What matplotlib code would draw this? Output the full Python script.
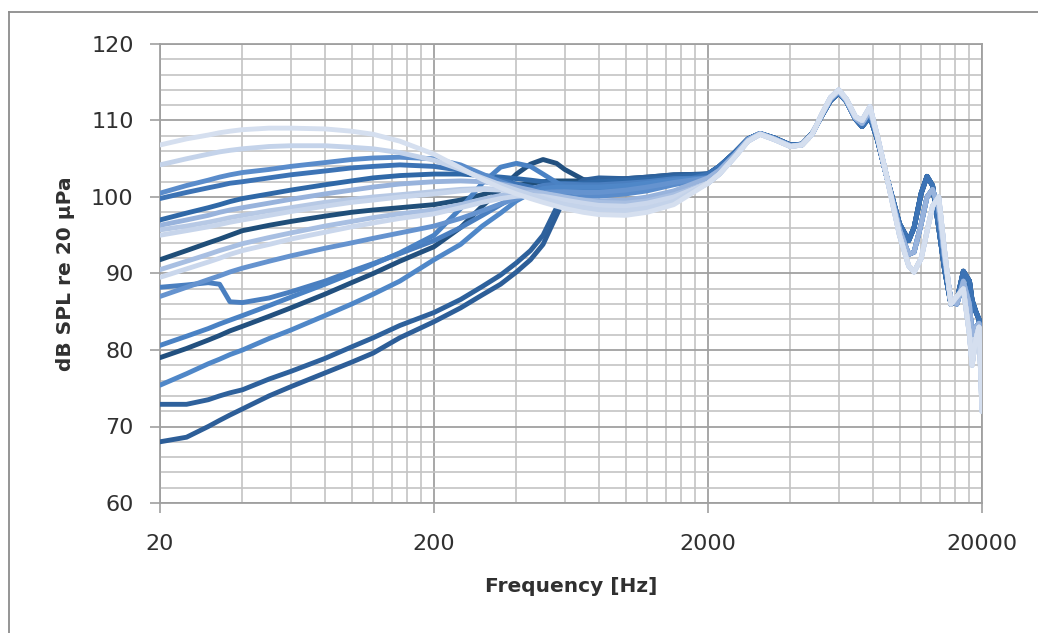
import numpy as np
import matplotlib
matplotlib.use("Agg")
import matplotlib.pyplot as plt
from matplotlib.ticker import FixedLocator, NullFormatter
from matplotlib.lines import Line2D

# frequency points (Hz) for the low/mid part of each curve
freq_low = [20, 25, 30, 33, 36, 40, 50, 60, 80, 100, 120, 150, 200, 250, 300,
            350, 400, 450, 500, 560, 600, 700, 800, 1000, 1200, 1500]

# shared high-frequency part (all curves converge above 2 kHz)
freq_high = [2000, 2200, 2500, 2800, 3100, 3500, 4000, 4400, 4800, 5200, 5600,
             6000, 6400, 6900, 7300, 7800, 8300, 9000, 10000, 10800, 11300,
             12000, 12600, 13200, 13900, 14600, 15400, 16200, 17100, 18000,
             18400, 19000, 19500, 20000]
high_dark = [103.0, 104.0, 105.8, 107.6, 108.3, 107.7, 106.8, 106.9, 108.3, 110.6, 112.6,
             113.6, 112.5, 110.2, 109.2, 110.5, 107.5, 102.5, 96.5, 94.3, 96.0,
             100.5, 102.7, 101.5, 96.0, 90.5, 86.0, 86.5, 90.3, 89.0,
             86.5, 85.0, 84.0, 80.5]
high_mid = [102.5, 103.5, 105.5, 107.5, 108.3, 107.6, 106.7, 106.8, 108.2, 110.7, 112.8,
            113.8, 112.6, 110.3, 109.6, 111.2, 107.8, 102.5, 95.8, 92.5, 92.8,
            96.5, 100.0, 101.0, 98.5, 92.0, 86.5, 86.0, 89.0, 86.0,
            82.0, 83.0, 83.5, 76.0]
high_light = [101.8, 103.0, 105.2, 107.3, 108.2, 107.5, 106.6, 106.8, 108.2, 110.8, 113.0,
              114.0, 112.8, 110.5, 110.0, 111.8, 108.0, 102.5, 95.0, 91.0, 90.2,
              92.0, 95.5, 98.8, 100.0, 93.0, 86.0, 87.0, 88.0, 82.0,
              78.0, 81.5, 83.0, 72.0]

# low-frequency part of each measurement (dB SPL)
spl_a = [106.8, 107.6, 108.1, 108.4, 108.6, 108.8, 109.0, 109.0, 108.9, 108.6, 108.2, 107.3, 105.6,
         103.8, 102.3, 101.2, 100.4, 99.8, 99.3, 98.8, 98.5, 98.0, 97.7, 97.6, 98.0, 99.0]
spl_b = [104.2, 105.0, 105.6, 105.9, 106.1, 106.3, 106.6, 106.7, 106.7, 106.5, 106.3, 105.8, 104.8,
         103.6, 102.5, 101.6, 100.9, 100.3, 99.8, 99.3, 99.0, 98.6, 98.3, 98.2, 98.5, 99.4]
spl_c = [100.5, 101.5, 102.2, 102.6, 102.9, 103.2, 103.6, 104.0, 104.5, 104.9, 105.1, 105.2, 105.0,
         104.2, 103.0, 102.0, 101.3, 100.8, 100.4, 100.2, 100.1, 100.0, 100.1, 100.4, 100.8, 101.6]
spl_c2 = [99.8, 100.6, 101.2, 101.5, 101.8, 102.0, 102.5, 102.9, 103.4, 103.8, 104.0, 104.2, 104.0,
          103.5, 102.8, 102.2, 101.7, 101.3, 101.0, 100.8, 100.7, 100.6, 100.7, 101.0, 101.3, 101.8]
spl_d = [97.0, 97.9, 98.6, 99.0, 99.4, 99.8, 100.4, 100.9, 101.6, 102.1, 102.5, 102.8, 103.0,
         103.0, 102.8, 102.6, 102.4, 102.2, 102.0, 101.8, 101.8, 101.8, 102.0, 102.2, 102.3, 102.6]
spl_e = [96.3, 97.0, 97.6, 98.0, 98.3, 98.6, 99.2, 99.7, 100.4, 100.9, 101.3, 101.7, 102.0,
         102.1, 102.0, 101.7, 101.3, 100.9, 100.5, 100.1, 99.9, 99.6, 99.5, 99.6, 100.0, 100.8]
spl_f = [95.7, 96.2, 96.7, 97.0, 97.3, 97.6, 98.2, 98.6, 99.3, 99.7, 100.0, 100.3, 100.7,
         101.0, 101.1, 101.0, 100.7, 100.3, 99.9, 99.5, 99.2, 98.8, 98.6, 98.6, 99.0, 99.9]
spl_f2 = [95.0, 95.6, 96.1, 96.4, 96.7, 97.0, 97.6, 98.1, 98.8, 99.3, 99.6, 100.0, 100.4,
          100.8, 101.0, 100.9, 100.6, 100.2, 99.8, 99.3, 99.0, 98.6, 98.3, 98.3, 98.7, 99.6]
spl_g = [91.8, 93.0, 94.0, 94.5, 95.0, 95.6, 96.3, 96.8, 97.5, 98.0, 98.3, 98.6, 99.0,
         99.6, 100.3, 101.0, 101.5, 101.8, 102.0, 102.1, 102.1, 102.1, 102.2, 102.4, 102.6, 102.9]
spl_h = [90.5, 91.6, 92.5, 93.0, 93.4, 93.9, 94.7, 95.3, 96.2, 96.8, 97.3, 97.8, 98.3,
         99.0, 99.7, 100.2, 100.5, 100.6, 100.5, 100.2, 100.0, 99.6, 99.3, 99.2, 99.5, 100.3]
spl_i = [89.5, 90.6, 91.5, 92.0, 92.5, 93.0, 93.8, 94.5, 95.4, 96.1, 96.6, 97.2, 97.8,
         98.6, 99.3, 99.8, 100.1, 100.2, 100.1, 99.8, 99.6, 99.2, 98.9, 98.8, 99.2, 100.0]
spl_k = [88.2, 88.5, 88.8, 88.6, 86.3, 86.2, 86.8, 87.6, 89.0, 90.3, 91.3, 92.6, 94.3,
         96.0, 97.6, 99.0, 100.2, 101.0, 101.5, 101.7, 101.7, 101.6, 101.6, 101.8, 102.0, 102.4]
spl_j = [87.0, 88.2, 89.2, 89.7, 90.2, 90.7, 91.6, 92.3, 93.3, 94.0, 94.6, 95.3, 96.2,
         97.2, 98.2, 99.1, 99.8, 100.3, 100.6, 100.7, 100.7, 100.6, 100.6, 100.9, 101.3, 101.9]
spl_m = [80.6, 81.8, 82.8, 83.4, 83.9, 84.5, 85.8, 86.9, 88.6, 90.0, 91.2, 92.7, 95.0,
         98.5, 101.8, 103.9, 104.4, 104.0, 103.0, 101.9, 101.3, 100.9, 101.0, 101.3, 101.7, 102.2]
spl_n = [79.0, 80.2, 81.3, 81.9, 82.5, 83.1, 84.4, 85.5, 87.3, 88.8, 90.0, 91.6, 93.5,
         96.0, 98.8, 101.0, 103.0, 104.3, 104.9, 104.4, 103.6, 102.3, 102.0, 102.2, 102.5, 102.8]
spl_p = [75.4, 76.9, 78.2, 78.8, 79.4, 80.0, 81.5, 82.6, 84.5, 86.0, 87.3, 89.0, 91.8,
         93.8, 96.2, 97.9, 99.5, 100.5, 101.1, 101.3, 101.3, 101.3, 101.3, 101.5, 101.8, 102.2]
spl_q = [72.9, 72.9, 73.5, 74.0, 74.4, 74.8, 76.2, 77.2, 78.9, 80.4, 81.6, 83.2, 84.9,
         86.6, 88.3, 89.8, 91.4, 93.0, 95.0, 98.6, 100.6, 102.2, 102.5, 102.4, 102.6, 102.9]
spl_r = [68.0, 68.6, 70.0, 70.8, 71.5, 72.3, 74.0, 75.2, 77.0, 78.4, 79.6, 81.6, 83.7,
         85.5, 87.2, 88.6, 90.2, 91.8, 93.8, 97.6, 99.9, 101.9, 102.3, 102.2, 102.4, 102.7]

# drawing order: dark first, light last (light ends up on top)
curves = [
    (spl_g, high_dark, "#1F4E79"),
    (spl_n, high_dark, "#22507F"),
    (spl_r, high_dark, "#2D5E98"),
    (spl_q, high_dark, "#2E619C"),
    (spl_d, high_dark, "#2F68A7"),
    (spl_c2, high_dark, "#3C73B5"),
    (spl_k, high_mid, "#4A7FC0"),
    (spl_m, high_mid, "#4A82C4"),
    (spl_p, high_mid, "#4F87C8"),
    (spl_c, high_mid, "#5A8CCB"),
    (spl_j, high_mid, "#6593CF"),
    (spl_e, high_mid, "#98B3DC"),
    (spl_h, high_light, "#A8BFE2"),
    (spl_f, high_light, "#B7C9E5"),
    (spl_f2, high_light, "#C7D5EB"),
    (spl_i, high_light, "#CAD7EC"),
    (spl_b, high_light, "#C4D3EA"),
    (spl_a, high_light, "#D5DFEF"),
]

fig = plt.figure(figsize=(10.38, 6.33), dpi=100)
ax = fig.add_axes([160 / 1038, 1 - 503 / 633, 822 / 1038, 459 / 633])

for low, high, col in curves:
    ax.plot(freq_low + freq_high, low + high, color=col, lw=3.5,
            solid_joinstyle="round", solid_capstyle="round", zorder=3)

ax.set_xscale("log")
ax.set_xlim(20, 20000)
ax.set_ylim(60, 120)

ax.xaxis.set_major_locator(FixedLocator([20, 200, 2000, 20000]))
ax.set_xticklabels(["20", "200", "2000", "20000"])
minor_x = [20 * k * 10 ** d for d in range(3) for k in range(2, 10)]
ax.xaxis.set_minor_locator(FixedLocator(minor_x))
ax.xaxis.set_minor_formatter(NullFormatter())
ax.set_yticks(np.arange(60, 121, 10))
ax.set_yticks(np.arange(60, 121, 2), minor=True)

ax.grid(which="major", color="#A0A0A0", lw=1.3, zorder=1)
ax.grid(which="minor", color="#C4C4C4", lw=1.2, zorder=1)
ax.set_axisbelow(True)

ax.tick_params(which="major", length=7, width=1.2, color="#A0A0A0",
               labelsize=16, labelcolor="#303030", direction="out")
ax.tick_params(axis="y", pad=12)
ax.tick_params(axis="x", pad=15.5)
ax.tick_params(which="minor", length=0)
for s in ax.spines.values():
    s.set_color("#A0A0A0")
    s.set_linewidth(1.3)

ax.set_xlabel("Frequency [Hz]", fontsize=14.5, fontweight="bold", color="#303030")
ax.set_ylabel("dB SPL re 20 μPa", fontsize=14.5, fontweight="bold", color="#303030")
ax.xaxis.set_label_coords(0.5, -0.162)
ax.yaxis.set_label_coords(-0.104, 0.5)

# chart area border: only left and top edges fall inside the image
top = 1 - 12 / 633
left = 9 / 1038
fig.add_artist(Line2D([left, left], [0, top], transform=fig.transFigure,
                      color="#8C8C8C", lw=1.3))
fig.add_artist(Line2D([left, 1], [top, top], transform=fig.transFigure,
                      color="#8C8C8C", lw=1.3))

plt.savefig("out.png", dpi=100)
